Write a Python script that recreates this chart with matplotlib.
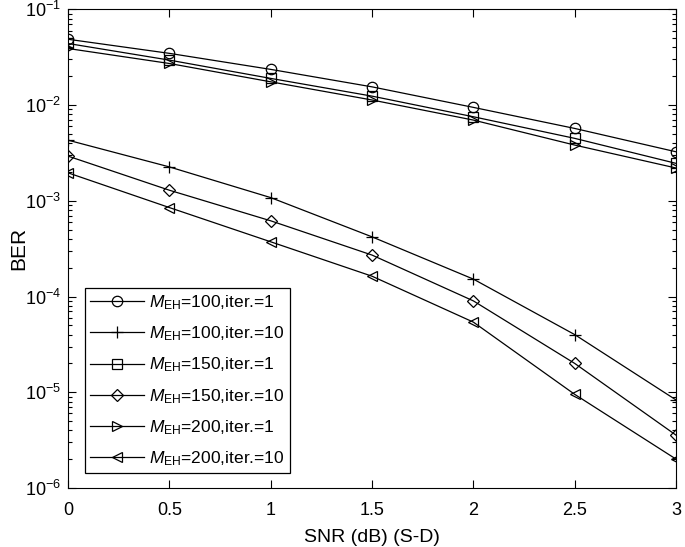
import numpy as np
import matplotlib
matplotlib.use('Agg')
import matplotlib.pyplot as plt
from matplotlib.ticker import LogLocator, NullFormatter

plt.rcParams['font.family'] = ['Liberation Sans', 'DejaVu Sans']
plt.rcParams['mathtext.fontset'] = 'custom'
plt.rcParams['mathtext.rm'] = 'Liberation Sans'
plt.rcParams['mathtext.it'] = 'Liberation Sans:italic'

snr = [0, 0.5, 1, 1.5, 2, 2.5, 3]

# BER
ber_100_1 = [0.0487, 0.0347, 0.0236, 0.0155, 0.00946, 0.0057, 0.00325]
ber_100_10 = [0.0043, 0.00226, 0.00108, 0.00042, 0.000152, 4.0e-5, 8.3e-6]
ber_150_1 = [0.044, 0.0295, 0.019, 0.0124, 0.00755, 0.00449, 0.00246]
ber_150_10 = [0.00293, 0.00129, 0.000618, 0.000271, 9.0e-5, 2.0e-5, 3.56e-6]
ber_200_1 = [0.039, 0.0272, 0.0175, 0.0113, 0.00697, 0.00382, 0.0022]
ber_200_10 = [0.00196, 0.00085, 0.000373, 0.000163, 5.4e-5, 9.5e-6, 2.0e-6]

series = [
    (ber_100_1, 'o', r'$M_{\mathrm{EH}}$=100,iter.=1'),
    (ber_100_10, '+', r'$M_{\mathrm{EH}}$=100,iter.=10'),
    (ber_150_1, 's', r'$M_{\mathrm{EH}}$=150,iter.=1'),
    (ber_150_10, 'D', r'$M_{\mathrm{EH}}$=150,iter.=10'),
    (ber_200_1, '>', r'$M_{\mathrm{EH}}$=200,iter.=1'),
    (ber_200_10, '<', r'$M_{\mathrm{EH}}$=200,iter.=10'),
]
marker_sizes = {'o': 7.5, '+': 9, 's': 6.5, 'D': 6, '>': 7.5, '<': 7.5}

fig = plt.figure(figsize=(6.85, 5.47), dpi=100)
ax = fig.add_axes([0.0993, 0.1079, 0.8877, 0.875])

for ber, mk, label in series:
    ax.semilogy(snr, ber, color='black', linewidth=0.9, marker=mk,
                markersize=marker_sizes[mk], markerfacecolor='none',
                markeredgecolor='black', markeredgewidth=0.9, label=label)

ax.set_xlim(0, 3)
ax.set_ylim(1e-6, 1e-1)
ax.set_xticks(snr)
ax.set_xticklabels(['0', '0.5', '1', '1.5', '2', '2.5', '3'])
ax.yaxis.set_major_locator(LogLocator(base=10, numticks=10))
ax.yaxis.set_minor_locator(LogLocator(base=10, subs=np.arange(2, 10), numticks=20))
ax.yaxis.set_minor_formatter(NullFormatter())

ax.tick_params(which='both', direction='in', top=True, right=True,
               labelsize=13, width=0.8)
ax.tick_params(which='major', length=6)
ax.tick_params(which='minor', length=3)
ax.tick_params(axis='x', pad=10)
ax.tick_params(axis='y', pad=5)
for sp in ax.spines.values():
    sp.set_linewidth(0.8)

ax.set_xlabel('SNR (dB) (S-D)', fontsize=14, labelpad=7)
ax.set_ylabel('BER', fontsize=15)
ax.yaxis.set_label_coords(-0.066, 0.5)

leg = ax.legend(loc='lower left', bbox_to_anchor=(0.028, 0.031), borderaxespad=0,
                fontsize=12.5, fancybox=False, framealpha=1, edgecolor='black',
                handlelength=3.1, handletextpad=0.3, labelspacing=0.72,
                borderpad=0.3)
leg.get_frame().set_linewidth(0.9)

fig.savefig('out.png', dpi=100)
